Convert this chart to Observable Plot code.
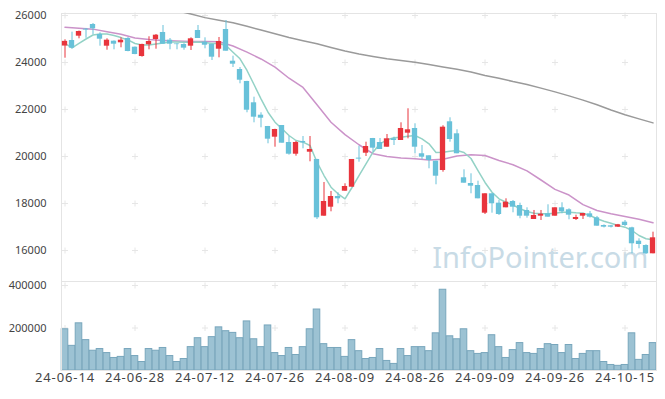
<!DOCTYPE html>
<html><head><meta charset="utf-8">
<script src="https://cdn.jsdelivr.net/npm/d3@7"></script>
<script src="https://cdn.jsdelivr.net/npm/@observablehq/plot@0.6"></script>
<style>
html,body{margin:0;padding:0;background:#fff;}
#chart{position:relative;width:665px;height:399px;}
#chart svg{display:block;}
</style></head><body><div id="chart"></div>
<script>
const dates = ["24-06-14","24-06-17","24-06-18","24-06-19","24-06-20","24-06-21","24-06-24","24-06-25","24-06-26","24-06-27","24-06-28",
"24-07-01","24-07-02","24-07-03","24-07-04","24-07-05","24-07-08","24-07-09","24-07-10","24-07-11","24-07-12",
"24-07-15","24-07-16","24-07-17","24-07-18","24-07-19","24-07-22","24-07-23","24-07-24","24-07-25","24-07-26",
"24-07-29","24-07-30","24-07-31","24-08-01","24-08-02","24-08-05","24-08-06","24-08-07","24-08-08","24-08-09",
"24-08-12","24-08-13","24-08-14","24-08-16","24-08-19","24-08-20","24-08-21","24-08-22","24-08-23","24-08-26",
"24-08-27","24-08-28","24-08-29","24-08-30","24-09-02","24-09-03","24-09-04","24-09-05","24-09-06","24-09-09",
"24-09-10","24-09-11","24-09-12","24-09-13","24-09-19","24-09-20","24-09-23","24-09-24","24-09-25","24-09-26",
"24-09-27","24-09-30","24-10-02","24-10-04","24-10-07","24-10-08","24-10-10","24-10-11","24-10-14","24-10-15",
"24-10-16","24-10-17","24-10-18","24-10-21"];

const open  = [24700,24936,25120,25420,25617,25192,24694,24906,24838,25021,24651,24255,24753,24979,25277,24949,24790,24766,24694,25362,24864,
24766,24566,25404,24055,23702,23192,22285,21758,21277,20822,21319,20596,20098,20640,20183,19873,17460,17843,18298,18524,
18694,19930,20140,20766,20596,20396,20753,20681,20992,21192,20116,20030,19800,19404,21477,20966,19094,18851,18766,17588,
18413,18014,17817,18086,17915,17703,17320,17460,17560,17460,17817,17732,17320,17460,17560,17390,17064,17050,16993,17205,
16966,16396,16213,15860];
const high  = [24966,25290,25340,25450,25660,25264,25008,24920,25051,25064,24660,24780,25094,25192,25574,25021,24800,24800,25051,25574,25051,
24780,25064,25787,24268,23787,23200,22524,21860,21280,21160,21319,20851,20640,20851,20851,19880,18894,18511,18456,18839,
19873,20438,20609,20770,20766,20936,20822,21434,22030,21392,20468,20030,19800,21307,21647,21136,19434,19264,18950,18413,
18413,18128,18200,18128,18014,17817,17703,17703,17945,17817,18030,17775,17503,17580,17660,17450,17090,17070,17110,17277,
16990,16498,16243,16780];
const low   = [24183,24580,25008,25030,25180,24694,24523,24540,24626,24455,24330,24226,24540,24566,24779,24540,24540,24523,24511,25021,24583,
24085,24200,24481,23787,23094,21860,21434,21222,20541,20396,20566,20056,20013,20327,19775,17320,17460,17647,17988,18524,
18694,19757,20000,20183,20298,20396,20468,20681,20753,20116,19860,19477,18796,19332,20609,20116,18864,18413,18200,17532,
17588,17490,17817,17605,17350,17375,17320,17277,17418,17460,17560,17307,17277,17320,17380,17035,16960,16960,16980,17022,
15860,16073,15830,15860];
const close = [24900,24610,25319,25380,25434,24992,24949,24779,24949,24468,24340,24766,24894,25162,24779,24779,24760,24610,25008,25021,24736,
24226,24894,24481,23928,23247,21970,21673,21630,20737,21149,20566,20098,20596,20583,20298,17392,18086,18298,18200,18724,
19873,19890,20426,20354,20298,20753,20681,21192,21136,20396,19970,19830,19162,21247,20724,20116,18864,18737,18200,18413,
17988,17532,18056,17843,17460,17460,17490,17545,17418,17817,17647,17503,17405,17575,17418,17035,16993,16993,17094,17064,
16286,16256,15860,16540];
const volume = [194000,116000,222000,143000,93000,101000,82000,59000,64000,101000,68000,40000,101000,93000,106000,68000,40000,54000,110000,152000,110000,
157000,203000,185000,177000,152000,231000,147000,110000,212000,82000,68000,106000,73000,110000,194000,287000,124000,106000,106000,64000,
143000,91000,54000,59000,101000,45000,31000,101000,68000,110000,110000,91000,175000,380000,161000,147000,194000,91000,78000,82000,
166000,110000,59000,96000,129000,82000,78000,101000,124000,120000,82000,120000,54000,78000,91000,91000,40000,26000,22000,26000,
175000,50000,73000,129000];

// moving averages
const ma5 = [24810,24620,24810,25000,25170,25210,25210,25150,25060,24960,24810,24745,24745,24787,24830,24872,24872,24864,24864,24872,24851,
24810,24810,24723,24438,24157,23660,23064,22455,21885,21460,21179,20894,20681,20609,20468,19757,19191,18694,18413,18200,
18681,19191,19689,20183,20540,20711,20796,20821,20864,20894,20753,20540,20170,20183,20226,20255,20170,19915,19404,18894,
18481,18200,18055,17945,17775,17660,17587,17562,17562,17587,17630,17630,17604,17587,17489,17349,17247,17162,17064,16992,
16851,16638,16498,16455];
const ma20Idx = [0,2,4,6,8,10,12,14,16,18,20,22,24,26,28,30,32,34,36,38,40,42,44,46,48,50,52,54,56,58,60,62,64,66,68,70,72,74,76,78,80,82,84];
const ma20 = [25500,25460,25420,25310,25200,25040,24975,24940,24915,24894,24894,24880,24700,24440,24150,23800,23330,22940,22200,21460,20930,
20500,20120,20000,19940,19900,19850,19880,20020,20070,20040,19830,19650,19390,19000,18600,18360,17950,17700,17560,17450,17330,17180];
const ma60Idx = [16,18,20,22,24,26,28,30,32,34,36,38,40,42,44,46,48,50,52,54,56,58,60,62,64,66,68,70,72,74,76,78,80,82,84];
const ma60 = [26200,26065,25910,25800,25690,25540,25380,25220,25060,24930,24800,24640,24490,24360,24260,24160,24090,24010,23910,23810,23710,23600,
23450,23330,23190,23064,22910,22750,22580,22400,22200,21980,21780,21600,21430];

const priceTicks = [16000,18000,20000,22000,24000,26000];
const volumeTicks = [200000,400000];
const dateTickIdx = [0,10,20,30,40,50,60,70,80];
const watermark = "InfoPointer.com";

const RED = "#e8343c", BLUE = "#68c1d9";
const bars = dates.map((d,i)=>({i, date:d, open:open[i], high:high[i], low:low[i], close:close[i], volume:volume[i], up: close[i] >= open[i]}));
const FONT = "'Noto Sans', 'Open Sans', sans-serif";

const xScale = {type:"linear", domain:[-0.5, 84.5], axis:null};
const priceCross = dateTickIdx.flatMap(x => priceTicks.map(y => ({x, y})));
const volCross = dateTickIdx.flatMap(x => volumeTicks.map(y => ({x, y})));

const price = Plot.plot({
  width: 665, height: 281,
  marginLeft: 61, marginRight: 9, marginTop: 13, marginBottom: 0,
  style: {fontFamily: FONT, background: "transparent", overflow: "visible"},
  x: xScale,
  y: {domain:[14681, 26085], axis:null},
  marks: [
    Plot.text([watermark], {frameAnchor:"bottom-right", textAnchor:"end", lineAnchor:"bottom", dx:-8, dy:-14, fontSize:29, fill:"#c8dbe6", text: d=>d}),
    Plot.dot(priceCross, {x:"x", y:"y", symbol:"plus", r:2.1, stroke:"#e6e6e6", strokeWidth:1}),
    Plot.frame({stroke:"#e4e4e4"}),
    Plot.text(priceTicks, {y: d=>d, frameAnchor:"left", textAnchor:"end", dx:-15, fontSize:11, fill:"#444", text: d=>String(d)}),
    Plot.line(ma60, {x:(d,i)=>ma60Idx[i], y:d=>d, stroke:"#9a9a9a", strokeWidth:1.5, clip:true}),
    Plot.line(ma20, {x:(d,i)=>ma20Idx[i], y:d=>d, stroke:"#cb93c9", strokeWidth:1.5, clip:true}),
    Plot.line(ma5, {x:(d,i)=>i, y:d=>d, stroke:"#93d2c6", strokeWidth:1.5, clip:true}),
    Plot.ruleX(bars, {x:"i", y1:"low", y2:"high", stroke:d=>d.up?RED:BLUE, strokeWidth:1}),
    Plot.rect(bars, {x1:d=>d.i-0.38, x2:d=>d.i+0.38, y1:"open", y2:"close", fill:d=>d.up?RED:BLUE})
  ]
});

const vol = Plot.plot({
  width: 665, height: 118,
  marginLeft: 61, marginRight: 9, marginTop: 0, marginBottom: 29,
  style: {fontFamily: FONT, background: "transparent", overflow: "visible"},
  x: xScale,
  y: {domain:[0, 418824], axis:null},
  marks: [
    Plot.dot(volCross, {x:"x", y:"y", symbol:"plus", r:2.1, stroke:"#e6e6e6", strokeWidth:1}),
    Plot.rect(bars, {x1:d=>d.i-0.47, x2:d=>d.i+0.47, y1:0, y2:"volume", fill:"#9cc2d3", stroke:"#78a6bc", strokeWidth:1}),
    Plot.frame({stroke:"#e4e4e4"}),
    Plot.text(volumeTicks, {y: d=>d, frameAnchor:"left", textAnchor:"end", dx:-15, fontSize:11, fill:"#444", text: d=>String(d)}),
    Plot.text(dateTickIdx, {x: d=>d, frameAnchor:"bottom", dy:11, fontSize:13, fill:"#444", text: d=>dates[d]})
  ]
});

// widen the date labels slightly, like the reference font
d3.select(vol).selectAll("text").filter(function(){ return /-/.test(this.textContent); }).attr("letter-spacing", "0.9px");

const el = document.getElementById("chart");
el.appendChild(price);
el.appendChild(vol);
</script></body></html>
